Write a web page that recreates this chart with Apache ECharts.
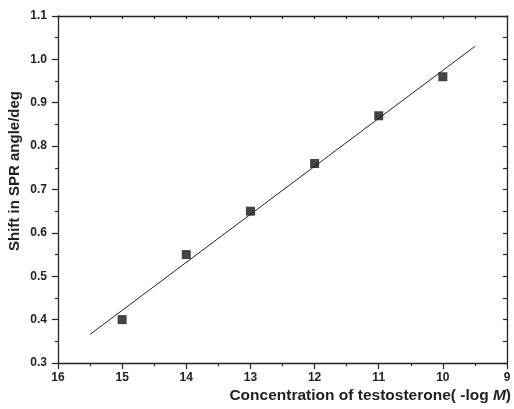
<!DOCTYPE html>
<html>
<head>
<meta charset="utf-8">
<script src="https://cdn.jsdelivr.net/npm/echarts@6/dist/echarts.min.js"></script>
<style>html,body{margin:0;padding:0;background:#fff}#c{width:514px;height:409px}</style>
</head>
<body>
<div id="c"></div>
<script>
var concX = [15, 14, 13, 12, 11, 10];
var shiftY = [0.40, 0.55, 0.65, 0.76, 0.87, 0.96];
var fitX = [15.5, 9.5];
var fitY = [0.366, 1.030];
var xTitle = 'Concentration of testosterone( -log ';
var xTitleUnit = 'M';
var xTitleEnd = ')';
var yTitle = 'Shift in SPR angle/deg';

var FONT = '"Liberation Sans", Arial, sans-serif';
var INK = '#222';
var chart = echarts.init(document.getElementById('c'), null, {renderer: 'canvas'});
var pts = concX.map(function (x, i) { return [x, shiftY[i]]; });
var fit = fitX.map(function (x, i) { return [x, fitY[i]]; });

var baseX = {
  type: 'value', min: 9, max: 16, interval: 1, inverse: true,
  splitLine: {show: false},
  axisLine: {show: true, onZero: false, lineStyle: {color: INK, width: 1.3}}
};
var baseY = {
  type: 'value', min: 0.3, max: 1.1, interval: 0.1,
  splitLine: {show: false},
  axisLine: {show: true, onZero: false, lineStyle: {color: INK, width: 1.3}}
};

chart.setOption({
  animation: false,
  grid: {left: 58, right: 7, top: 16, bottom: 46, containLabel: false},
  xAxis: [
    Object.assign({}, baseX, {
      position: 'bottom',
      axisTick: {show: true, length: 6, inside: false, lineStyle: {color: INK, width: 1.2}},
      minorTick: {show: true, splitNumber: 2, length: 3, lineStyle: {color: INK, width: 1.2}},
      axisLabel: {color: INK, fontFamily: FONT, fontWeight: 'bold', fontSize: 12, margin: 9}
    }),
    Object.assign({}, baseX, {
      position: 'top',
      axisTick: {show: true, length: 3, inside: true, lineStyle: {color: INK, width: 1.2}},
      minorTick: {show: true, splitNumber: 2, length: 3, lineStyle: {color: INK, width: 1.2}},
      axisLabel: {show: false}
    })
  ],
  yAxis: [
    Object.assign({}, baseY, {
      position: 'left',
      axisTick: {show: true, length: 6, inside: false, lineStyle: {color: INK, width: 1.2}},
      minorTick: {show: true, splitNumber: 2, length: 3, lineStyle: {color: INK, width: 1.2}},
      axisLabel: {color: INK, fontFamily: FONT, fontWeight: 'bold', fontSize: 12, margin: 11,
        formatter: function (v) { return v.toFixed(1); }}
    }),
    Object.assign({}, baseY, {
      position: 'right',
      axisTick: {show: true, length: 4, inside: true, lineStyle: {color: INK, width: 1.2}},
      minorTick: {show: true, splitNumber: 2, length: 4, lineStyle: {color: INK, width: 1.2}},
      axisLabel: {show: false}
    })
  ],
  graphic: [
    {
      type: 'text', right: 3, top: 388,
      style: {
        text: '{a|' + xTitle + '}{b|' + xTitleUnit + '}{a|' + xTitleEnd + '}',
        rich: {
          a: {fontFamily: FONT, fontWeight: 'bold', fontSize: 15.5, fill: INK},
          b: {fontFamily: FONT, fontWeight: 'bold', fontStyle: 'italic', fontSize: 15.5, fill: INK}
        }
      }
    },
    {
      type: 'text', x: 15, y: 171, rotation: Math.PI / 2,
      style: {
        text: yTitle, fontFamily: FONT, fontWeight: 'bold', fontSize: 15, fill: INK,
        align: 'center', verticalAlign: 'middle'
      }
    }
  ],
  series: [
    {
      type: 'line', data: fit, xAxisIndex: 0, yAxisIndex: 0,
      symbol: 'none', lineStyle: {color: INK, width: 1}, z: 2
    },
    {
      type: 'scatter', data: pts, xAxisIndex: 0, yAxisIndex: 0,
      symbol: 'rect', symbolSize: 9, itemStyle: {color: '#151515'}, z: 3
    }
  ]
});
</script>
</body>
</html>
